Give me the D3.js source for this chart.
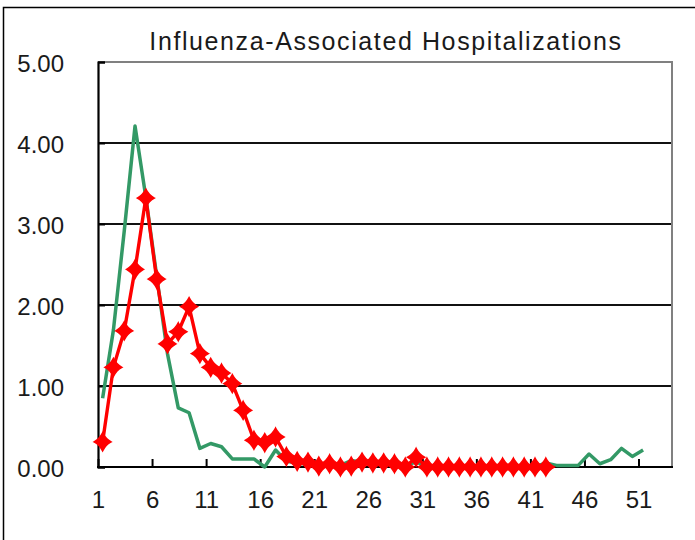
<!DOCTYPE html>
<html>
<head>
<meta charset="utf-8">
<script src="https://cdn.jsdelivr.net/npm/d3@7"></script>
<style>
  html, body { margin: 0; padding: 0; background: #fff; }
  svg { display: block; }
  text { font-family: "Liberation Sans", Arial, sans-serif; fill: #1a1a1a; }
</style>
</head>
<body>
<svg id="chart" width="695" height="540"></svg>
<script>
// ---- data ----
const title = "Influenza-Associated Hospitalizations";
const weeks = d3.range(1, 53); // 1..52
const xTickLabels = [1, 6, 11, 16, 21, 26, 31, 36, 41, 46, 51];
const yTickValues = [0, 1, 2, 3, 4, 5];
const redSeries = [0.31, 1.23, 1.68, 2.44, 3.32, 2.32, 1.52, 1.67, 1.98, 1.40,
  1.23, 1.16, 1.03, 0.70, 0.33, 0.30, 0.37, 0.13, 0.07, 0.06,
  0.01, 0.04, 0.00, 0.01, 0.06, 0.05, 0.05, 0.04, 0.00, 0.12,
  0, 0, 0, 0, 0, 0, 0, 0, 0, 0, 0, 0];
const greenSeries = [0.85, 1.69, 2.91, 4.21, 3.33, 2.36, 1.40, 0.73, 0.67, 0.23,
  0.29, 0.25, 0.10, 0.10, 0.10, 0.00, 0.21, 0.07, 0.05, 0.03,
  0.02, 0.03, 0.02, 0.08, 0.06, 0.05, 0.04, 0.03, 0.02, 0.06,
  0.01, 0, 0, 0, 0, 0, 0, 0, 0, 0, 0, 0.05,
  0.02, 0.02, 0.02, 0.16, 0.04, 0.09, 0.23, 0.13, 0.21];

// ---- layout ----
const plot = { left: 98, right: 672, top: 62, bottom: 467 };
const catStep = 10.81;
const pointOffset = 4.6; // points sit slightly right of the tick marks

const svg = d3.select("#chart");

// outer frame
svg.append("path")
  .attr("d", "M3.5,540 V7.5 H695")
  .attr("fill", "none").attr("stroke", "#000").attr("stroke-width", 1.5);

const x = d3.scaleLinear()
  .domain([1, 52])
  .range([plot.left + pointOffset, plot.left + pointOffset + 51 * catStep]);
const xAxisScale = x.copy().range(x.range().map(v => v - pointOffset));
const y = d3.scaleLinear().domain([0, 5]).range([plot.bottom, plot.top]);

// gridlines
svg.append("g")
  .selectAll("line")
  .data(yTickValues.filter(v => v > 0 && v < 5))
  .join("line")
  .attr("x1", plot.left).attr("x2", plot.right)
  .attr("y1", d => y(d)).attr("y2", d => y(d))
  .attr("stroke", "#111").attr("stroke-width", 1.8);

// top & right border (gray)
svg.append("path")
  .attr("d", `M${plot.left},${y(5)} H${plot.right} V${plot.bottom}`)
  .attr("fill", "none").attr("stroke", "#808080").attr("stroke-width", 2);

// title
svg.append("text")
  .attr("x", (plot.left + plot.right) / 2 + 1)
  .attr("y", 50)
  .attr("text-anchor", "middle")
  .attr("font-size", 25)
  .attr("letter-spacing", 1.6)
  .text(title);

// y axis
const yAxis = d3.axisLeft(y).tickValues(yTickValues).tickSize(-7).tickPadding(34)
  .tickFormat(d3.format(".2f"));
const yg = svg.append("g").attr("transform", `translate(${plot.left},0)`).call(yAxis);
yg.select(".domain").attr("stroke", "#000").attr("stroke-width", 2.2);
yg.selectAll(".tick line").attr("stroke", "#000").attr("stroke-width", 2);
yg.selectAll(".tick text").attr("font-size", 24).attr("font-family", "Liberation Sans, Arial, sans-serif")
  .attr("fill", "#1a1a1a").attr("dy", "0.38em");

// x axis
const xAxis = d3.axisBottom(xAxisScale).tickValues(xTickLabels).tickSize(-8).tickPadding(24)
  .tickFormat(d3.format("d"));
const xg = svg.append("g").attr("transform", `translate(0,${plot.bottom})`).call(xAxis);
xg.select(".domain").remove();
xg.append("line").attr("x1", plot.left - 1).attr("x2", plot.right + 1)
  .attr("stroke", "#000").attr("stroke-width", 2.2);
xg.selectAll(".tick line").attr("stroke", "#000").attr("stroke-width", 2);
xg.selectAll(".tick text").attr("font-size", 24).attr("font-family", "Liberation Sans, Arial, sans-serif")
  .attr("fill", "#1a1a1a").attr("dy", "0.71em");

// green line
const line = d3.line().x((d, i) => x(weeks[i])).y(d => y(d));
svg.append("path")
  .datum(greenSeries)
  .attr("d", line)
  .attr("fill", "none").attr("stroke", "#339966").attr("stroke-width", 3.5)
  .attr("stroke-linejoin", "round");

// red line
svg.append("path")
  .datum(redSeries)
  .attr("d", line)
  .attr("fill", "none").attr("stroke", "#ff0000").attr("stroke-width", 3.4)
  .attr("stroke-linejoin", "round");

// red diamond markers
svg.append("g")
  .selectAll("path")
  .data(redSeries)
  .join("path")
  .attr("transform", (d, i) => `translate(${x(weeks[i])},${y(d)})`)
  .attr("d", "M0,-9 Q3,-3 8.5,0 Q3,3 0,9 Q-3,3 -8.5,0 Q-3,-3 0,-9Z")
  .attr("fill", "#ff0000").attr("stroke", "#ff0000").attr("stroke-width", 1.5);
</script>
</body>
</html>
